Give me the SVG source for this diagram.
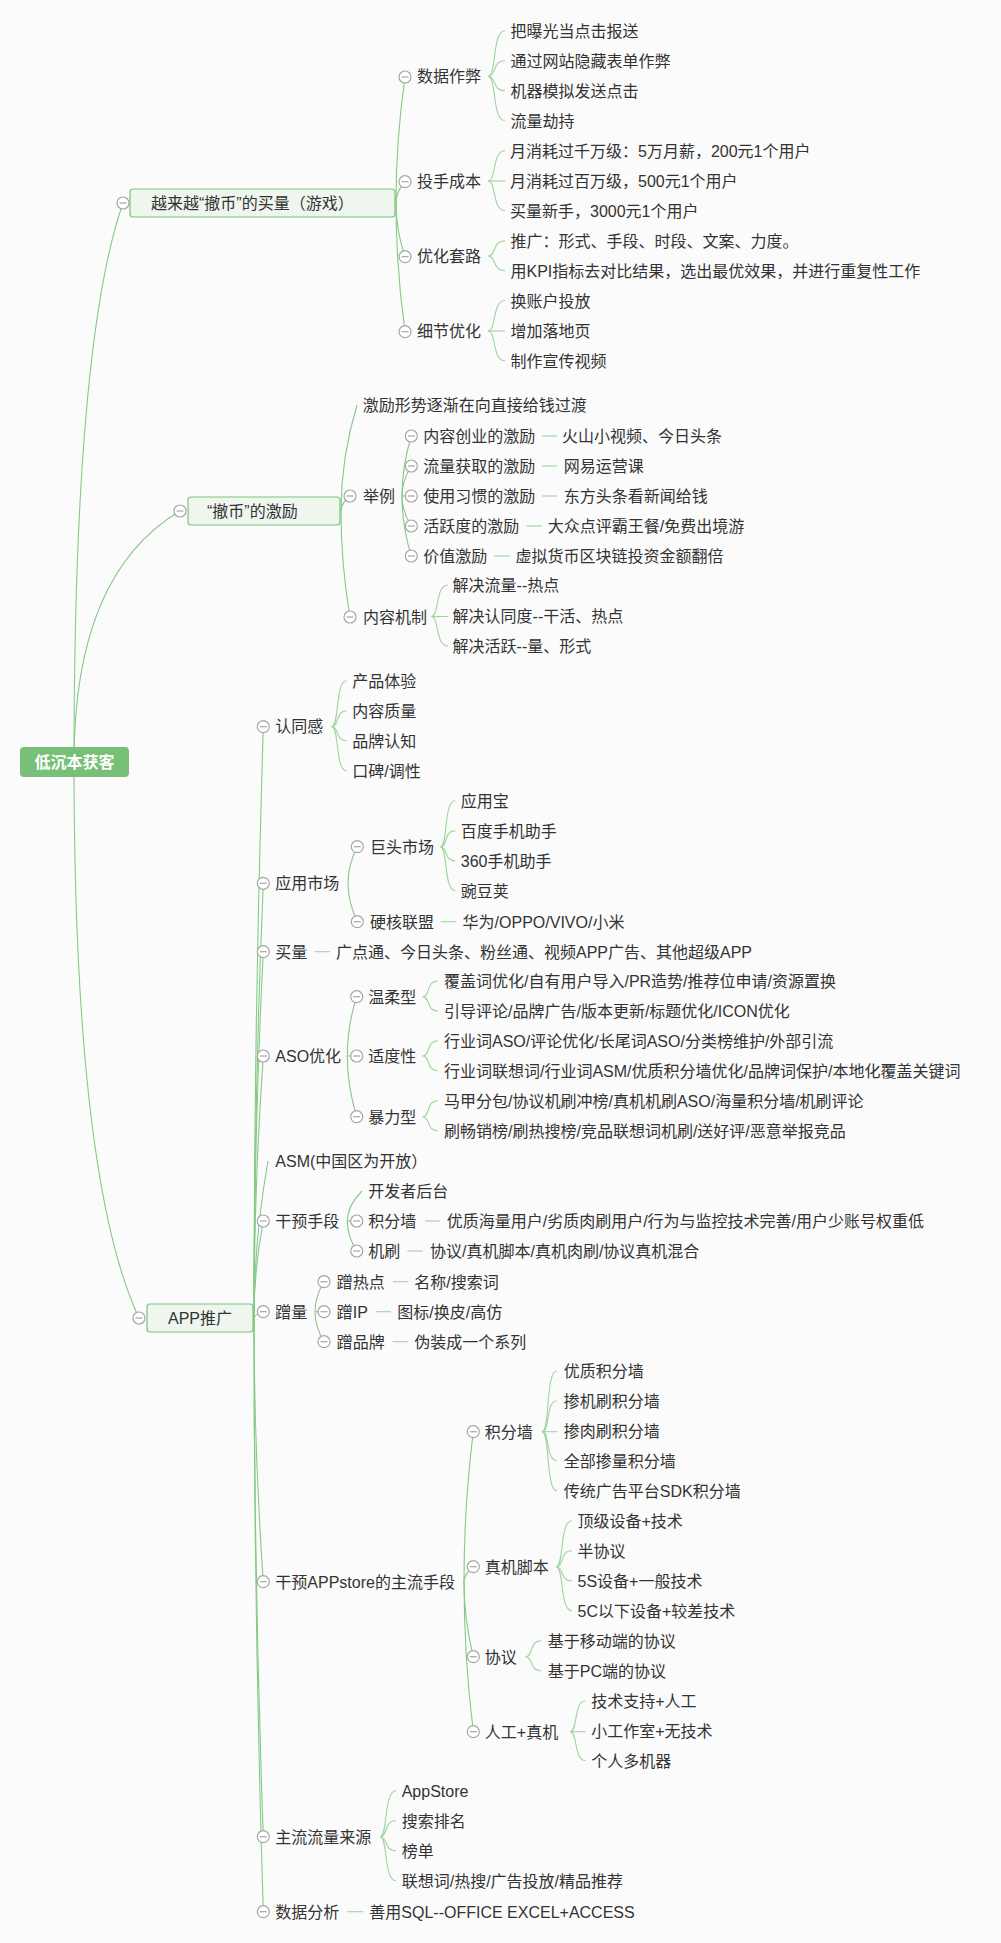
<svg xmlns="http://www.w3.org/2000/svg" xmlns:xlink="http://www.w3.org/1999/xlink" width="1001" height="1943" viewBox="0 0 1001 1943">
<style>
.t{font-family:"Liberation Sans","Noto Sans CJK SC",sans-serif;font-size:16px;fill:#333}
.rt{font-family:"Liberation Sans","Noto Sans CJK SC",sans-serif;font-size:16px;font-weight:bold;fill:#fff}
.ln{fill:none;stroke:#86c986;stroke-width:1.1}
.br{fill:none;stroke:#9dd59d;stroke-width:1.1}
.box{fill:#eef6ee;stroke:#7cc47c;stroke-width:1.2}
</style>
<defs>
<g id="col"><circle r="6" fill="#fff" stroke="#a6a6a6" stroke-width="1.2"/><line x1="-3.5" y1="0" x2="3.5" y2="0" stroke="#a6a6a6" stroke-width="1.2"/></g>
</defs>
<rect width="1001" height="1943" fill="#fbfbfb"/>

<g id="connectors">
<!-- root -->
<path class="ln" d="M74 762 Q74 343 123 203"/>
<path class="ln" d="M74 762 Q74 574 180 511"/>
<path class="ln" d="M74 762 Q74 1179 139 1318"/>
<!-- section 1 -->
<path class="ln" d="M396 203 Q396 140 405 77"/>
<path class="ln" d="M396 203 Q396 192 405 181.7"/>
<path class="ln" d="M396 203 Q396 230 405 256.7"/>
<path class="ln" d="M396 203 Q396 267 405 331.7"/>
<path class="br" d="M488 76.5 C496.5 76.5 492 30.7 505 30.7"/>
<path class="br" d="M488 76.5 C496.5 76.5 492 60.7 505 60.7"/>
<path class="br" d="M488 76.5 C496.5 76.5 492 90.7 505 90.7"/>
<path class="br" d="M488 76.5 C496.5 76.5 492 120.7 505 120.7"/>
<path class="br" d="M488 181 C496.5 181 492 150.7 505 150.7"/>
<path class="br" d="M488 181 L505 181"/>
<path class="br" d="M488 181 C496.5 181 492 210.5 505 210.5"/>
<path class="br" d="M488 256 C496.5 256 492 240.7 505 240.7"/>
<path class="br" d="M488 256 C496.5 256 492 270.7 505 270.7"/>
<path class="br" d="M488 331 C496.5 331 492 300.5 505 300.5"/>
<path class="br" d="M488 331 L505 331"/>
<path class="br" d="M488 331 C496.5 331 492 360.7 505 360.7"/>
<!-- section 2 -->
<path class="ln" d="M341 511 Q341 458 357 405"/>
<path class="ln" d="M341 511 Q341 503.5 350 496"/>
<path class="ln" d="M341 511 Q341 564 350 617"/>
<path class="ln" d="M402 496 Q402 466 411.3 436"/>
<path class="ln" d="M402 496 Q402 481 411.3 466"/>
<path class="ln" d="M402 496 L411.3 496"/>
<path class="ln" d="M402 496 Q402 511 411.3 526"/>
<path class="ln" d="M402 496 Q402 526 411.3 556"/>
<path class="br" d="M542 436 H557"/>
<path class="br" d="M542 466 H557"/>
<path class="br" d="M542 496 H557"/>
<path class="br" d="M526.5 526 H542"/>
<path class="br" d="M494 556 H510"/>
<path class="br" d="M431 616.5 C439.5 616.5 435 585 448 585"/>
<path class="br" d="M431 616.5 L448 616.5"/>
<path class="br" d="M431 616.5 C439.5 616.5 435 646 448 646"/>
<!-- section 3 -->
<path class="ln" d="M254 1318 Q254 1022 263.3 726.7"/>
<path class="ln" d="M254 1318 Q254 1100 263.3 883.3"/>
<path class="ln" d="M254 1318 Q254 1135 263.3 951.7"/>
<path class="ln" d="M254 1318 Q254 1187 263.3 1056"/>
<path class="ln" d="M254 1318 Q254 1240 268 1161"/>
<path class="ln" d="M254 1318 Q254 1270 263.3 1221"/>
<path class="ln" d="M254 1318 Q254 1315 263.3 1311.7"/>
<path class="ln" d="M254 1318 Q254 1450 263.3 1581.7"/>
<path class="ln" d="M254 1318 Q254 1577 263.3 1836.7"/>
<path class="ln" d="M254 1318 Q254 1615 263.3 1911.7"/>
<path class="br" d="M331.7 726.7 C339.5 726.7 335 680.7 346.7 680.7"/>
<path class="br" d="M331.7 726.7 C339.5 726.7 335 710.7 346.7 710.7"/>
<path class="br" d="M331.7 726.7 C339.5 726.7 335 740.7 346.7 740.7"/>
<path class="br" d="M331.7 726.7 C339.5 726.7 335 770.7 346.7 770.7"/>
<path class="ln" d="M348 883.3 Q348 865 357.3 846.7"/>
<path class="ln" d="M348 883.3 Q348 902 357.3 921.7"/>
<path class="br" d="M440.4 846.7 C448 846.7 443.5 800.7 455.2 800.7"/>
<path class="br" d="M440.4 846.7 C448 846.7 443.5 830.7 455.2 830.7"/>
<path class="br" d="M440.4 846.7 C448 846.7 443.5 860.7 455.2 860.7"/>
<path class="br" d="M440.4 846.7 C448 846.7 443.5 890.7 455.2 890.7"/>
<path class="br" d="M440.7 921.7 H456"/>
<path class="br" d="M315 951.7 H330"/>
<path class="ln" d="M347.3 1056 Q347.3 1026 356.7 996.7"/>
<path class="ln" d="M347.3 1056 L356.7 1056"/>
<path class="ln" d="M347.3 1056 Q347.3 1086 356.7 1116.7"/>
<path class="br" d="M422.7 996.7 C430.5 996.7 426 981 437.8 981"/>
<path class="br" d="M422.7 996.7 C430.5 996.7 426 1011 437.8 1011"/>
<path class="br" d="M422.7 1056 C430.5 1056 426 1040.7 437.8 1040.7"/>
<path class="br" d="M422.7 1056 C430.5 1056 426 1070.7 437.8 1070.7"/>
<path class="br" d="M422.7 1116.7 C430.5 1116.7 426 1100.7 437.8 1100.7"/>
<path class="br" d="M422.7 1116.7 C430.5 1116.7 426 1130.7 437.8 1130.7"/>
<path class="ln" d="M347.3 1221 Q347.3 1206 362 1191"/>
<path class="ln" d="M347.3 1221 L356.7 1221"/>
<path class="ln" d="M347.3 1221 Q347.3 1236 356.7 1251"/>
<path class="br" d="M425 1221 H440"/>
<path class="br" d="M407.3 1251 H422.7"/>
<path class="ln" d="M315 1311.7 Q315 1296.7 324 1281.7"/>
<path class="ln" d="M315 1311.7 L324 1311.7"/>
<path class="ln" d="M315 1311.7 Q315 1326.7 324 1341.7"/>
<path class="br" d="M393 1281.7 H408.3"/>
<path class="br" d="M376 1311.7 H391"/>
<path class="br" d="M392.7 1341.7 H408.3"/>
<path class="ln" d="M464 1581.7 Q464 1506 473.3 1431.7"/>
<path class="ln" d="M464 1581.7 Q464 1574 473.3 1566.7"/>
<path class="ln" d="M464 1581.7 Q464 1619 473.3 1656.7"/>
<path class="ln" d="M464 1581.7 Q464 1656 473.3 1731.7"/>
<path class="br" d="M542.3 1431.7 C550 1431.7 545.5 1370.7 557 1370.7"/>
<path class="br" d="M542.3 1431.7 C550 1431.7 545.5 1400.7 557 1400.7"/>
<path class="br" d="M542.3 1431.7 L557 1431.7"/>
<path class="br" d="M542.3 1431.7 C550 1431.7 545.5 1460.7 557 1460.7"/>
<path class="br" d="M542.3 1431.7 C550 1431.7 545.5 1490.7 557 1490.7"/>
<path class="br" d="M556.3 1566.7 C564 1566.7 559.5 1520.7 572 1520.7"/>
<path class="br" d="M556.3 1566.7 C564 1566.7 559.5 1550.7 572 1550.7"/>
<path class="br" d="M556.3 1566.7 C564 1566.7 559.5 1580.7 572 1580.7"/>
<path class="br" d="M556.3 1566.7 C564 1566.7 559.5 1610.7 572 1610.7"/>
<path class="br" d="M525.6 1656.7 C533.5 1656.7 529 1640.7 541 1640.7"/>
<path class="br" d="M525.6 1656.7 C533.5 1656.7 529 1670.7 541 1670.7"/>
<path class="br" d="M570 1731.7 C578 1731.7 573.5 1700.7 585.5 1700.7"/>
<path class="br" d="M570 1731.7 L585.5 1731.7"/>
<path class="br" d="M570 1731.7 C578 1731.7 573.5 1760.7 585.5 1760.7"/>
<path class="br" d="M380 1836.7 C388 1836.7 383.5 1790.7 396 1790.7"/>
<path class="br" d="M380 1836.7 C388 1836.7 383.5 1820.7 396 1820.7"/>
<path class="br" d="M380 1836.7 C388 1836.7 383.5 1850.7 396 1850.7"/>
<path class="br" d="M380 1836.7 C388 1836.7 383.5 1880.7 396 1880.7"/>
<path class="br" d="M347.3 1911.7 H363.3"/>
</g>

<g id="root">
<rect x="20" y="747" width="109" height="30" rx="4" fill="#78c078"/>
<text class="rt" x="74.5" y="768" text-anchor="middle">低沉本获客</text>
</g>

<!-- section 1 -->
<g id="n-game">
<rect class="box" x="130" y="189" width="265" height="28" rx="3"/>
<text class="t" x="151" y="209">越来越“撤币”的买量（游戏）</text>
<use href="#col" x="123" y="203"/>
</g>
<g id="n-shuju"><use href="#col" x="405" y="77"/><text class="t" x="417" y="82">数据作弊</text></g>
<g id="n-toushou"><use href="#col" x="405" y="181.7"/><text class="t" x="417" y="187">投手成本</text></g>
<g id="n-youhua"><use href="#col" x="405" y="256.7"/><text class="t" x="417" y="262">优化套路</text></g>
<g id="n-xijie"><use href="#col" x="405" y="331.7"/><text class="t" x="417" y="337">细节优化</text></g>
<g id="l1-leaves">
<text class="t" x="510.5" y="36.7">把曝光当点击报送</text>
<text class="t" x="510.5" y="66.7">通过网站隐藏表单作弊</text>
<text class="t" x="510.5" y="96.7">机器模拟发送点击</text>
<text class="t" x="510.5" y="126.7">流量劫持</text>
<text class="t" x="510" y="156.7">月消耗过千万级：5万月薪，200元1个用户</text>
<text class="t" x="510" y="186.5">月消耗过百万级，500元1个用户</text>
<text class="t" x="510" y="216.5">买量新手，3000元1个用户</text>
<text class="t" x="510.5" y="246.7">推广：形式、手段、时段、文案、力度。</text>
<text class="t" x="510.5" y="276.7">用KPI指标去对比结果，选出最优效果，并进行重复性工作</text>
<text class="t" x="510.5" y="306.5">换账户投放</text>
<text class="t" x="510.5" y="336.7">增加落地页</text>
<text class="t" x="510.5" y="366.7">制作宣传视频</text>
</g>

<!-- section 2 -->
<g id="n-jili">
<rect class="box" x="188" y="497" width="152" height="28" rx="3"/>
<text class="t" x="207" y="517">“撤币”的激励</text>
<use href="#col" x="180" y="511"/>
</g>
<g id="n-guodu"><text class="t" x="362.7" y="411">激励形势逐渐在向直接给钱过渡</text></g>
<g id="n-juli"><use href="#col" x="350" y="496"/><text class="t" x="363" y="502">举例</text></g>
<g id="n-neirong"><use href="#col" x="350" y="617"/><text class="t" x="363" y="622.5">内容机制</text></g>
<g id="n-juli-items">
<use href="#col" x="411.3" y="436"/><text class="t" x="423.3" y="442">内容创业的激励</text><text class="t" x="562" y="442">火山小视频、今日头条</text>
<use href="#col" x="411.3" y="466"/><text class="t" x="423.3" y="472">流量获取的激励</text><text class="t" x="563.8" y="472">网易运营课</text>
<use href="#col" x="411.3" y="496"/><text class="t" x="423.3" y="502">使用习惯的激励</text><text class="t" x="563.8" y="502">东方头条看新闻给钱</text>
<use href="#col" x="411.3" y="526"/><text class="t" x="423.3" y="532">活跃度的激励</text><text class="t" x="547.8" y="532">大众点评霸王餐/免费出境游</text>
<use href="#col" x="411.3" y="556"/><text class="t" x="423.3" y="562">价值激励</text><text class="t" x="515.6" y="562">虚拟货币区块链投资金额翻倍</text>
</g>
<g id="n-neirong-leaves">
<text class="t" x="452.6" y="591">解决流量--热点</text>
<text class="t" x="452.6" y="621.7">解决认同度--干活、热点</text>
<text class="t" x="452.6" y="651.7">解决活跃--量、形式</text>
</g>

<!-- section 3 -->
<g id="n-app">
<rect class="box" x="147" y="1304" width="106" height="28" rx="3"/>
<text class="t" x="168" y="1324">APP推广</text>
<use href="#col" x="139" y="1318"/>
</g>
<g id="n-rentong"><use href="#col" x="263.3" y="726.7"/><text class="t" x="275.3" y="732">认同感</text>
<text class="t" x="352.3" y="686.7">产品体验</text>
<text class="t" x="352.3" y="716.7">内容质量</text>
<text class="t" x="352.3" y="746.7">品牌认知</text>
<text class="t" x="352.3" y="776.5">口碑/调性</text>
</g>
<g id="n-yingyong"><use href="#col" x="263.3" y="883.3"/><text class="t" x="275.3" y="889">应用市场</text></g>
<g id="n-jutou"><use href="#col" x="357.3" y="846.7"/><text class="t" x="370" y="852.5">巨头市场</text>
<text class="t" x="460.8" y="806.5">应用宝</text>
<text class="t" x="460.8" y="836.7">百度手机助手</text>
<text class="t" x="460.8" y="866.5">360手机助手</text>
<text class="t" x="460.8" y="896.5">豌豆荚</text>
</g>
<g id="n-yinghe"><use href="#col" x="357.3" y="921.7"/><text class="t" x="370" y="927.5">硬核联盟</text><text class="t" x="462.6" y="927.5">华为/OPPO/VIVO/小米</text></g>
<g id="n-mailiang"><use href="#col" x="263.3" y="951.7"/><text class="t" x="275.3" y="957.5">买量</text><text class="t" x="336" y="957.5">广点通、今日头条、粉丝通、视频APP广告、其他超级APP</text></g>
<g id="n-aso"><use href="#col" x="263.3" y="1056"/><text class="t" x="275.3" y="1062">ASO优化</text></g>
<g id="n-wenrou"><use href="#col" x="356.7" y="996.7"/><text class="t" x="368.3" y="1002.5">温柔型</text>
<text class="t" x="444" y="986.5">覆盖词优化/自有用户导入/PR造势/推荐位申请/资源置换</text>
<text class="t" x="444" y="1016.5">引导评论/品牌广告/版本更新/标题优化/ICON优化</text>
</g>
<g id="n-shidu"><use href="#col" x="356.7" y="1056"/><text class="t" x="368.3" y="1062">适度性</text>
<text class="t" x="444" y="1046.5">行业词ASO/评论优化/长尾词ASO/分类榜维护/外部引流</text>
<text class="t" x="444" y="1076.5">行业词联想词/行业词ASM/优质积分墙优化/品牌词保护/本地化覆盖关键词</text>
</g>
<g id="n-baoli"><use href="#col" x="356.7" y="1116.7"/><text class="t" x="368.3" y="1122.5">暴力型</text>
<text class="t" x="444" y="1106.5">马甲分包/协议机刷冲榜/真机机刷ASO/海量积分墙/机刷评论</text>
<text class="t" x="444" y="1136.5">刷畅销榜/刷热搜榜/竞品联想词机刷/送好评/恶意举报竞品</text>
</g>
<g id="n-asm"><text class="t" x="275.3" y="1167">ASM(中国区为开放）</text></g>
<g id="n-ganyu"><use href="#col" x="263.3" y="1221"/><text class="t" x="275.3" y="1227">干预手段</text>
<text class="t" x="368.3" y="1197">开发者后台</text>
</g>
<g id="n-jifen1"><use href="#col" x="356.7" y="1221"/><text class="t" x="368.3" y="1227">积分墙</text><text class="t" x="446.7" y="1227">优质海量用户/劣质肉刷用户/行为与监控技术完善/用户少账号权重低</text></g>
<g id="n-jishua"><use href="#col" x="356.7" y="1251"/><text class="t" x="368.3" y="1257">机刷</text><text class="t" x="430" y="1257">协议/真机脚本/真机肉刷/协议真机混合</text></g>
<g id="n-cengliang"><use href="#col" x="263.3" y="1311.7"/><text class="t" x="275.3" y="1317.5">蹭量</text></g>
<g id="n-cengredian"><use href="#col" x="324" y="1281.7"/><text class="t" x="336.7" y="1287.5">蹭热点</text><text class="t" x="414.3" y="1287.5">名称/搜索词</text></g>
<g id="n-cengip"><use href="#col" x="324" y="1311.7"/><text class="t" x="336.7" y="1317.5">蹭IP</text><text class="t" x="397.3" y="1317.5">图标/换皮/高仿</text></g>
<g id="n-cengpinpai"><use href="#col" x="324" y="1341.7"/><text class="t" x="336.7" y="1347.5">蹭品牌</text><text class="t" x="414.3" y="1347.5">伪装成一个系列</text></g>
<g id="n-appstore"><use href="#col" x="263.3" y="1581.7"/><text class="t" x="275.3" y="1587.5">干预APPstore的主流手段</text></g>
<g id="n-jifen2"><use href="#col" x="473.3" y="1431.7"/><text class="t" x="484.8" y="1437.5">积分墙</text>
<text class="t" x="563.8" y="1376.7">优质积分墙</text>
<text class="t" x="563.8" y="1406.7">掺机刷积分墙</text>
<text class="t" x="563.8" y="1436.7">掺肉刷积分墙</text>
<text class="t" x="563.8" y="1466.7">全部掺量积分墙</text>
<text class="t" x="563.8" y="1496.7">传统广告平台SDK积分墙</text>
</g>
<g id="n-zhenji"><use href="#col" x="473.3" y="1566.7"/><text class="t" x="484.8" y="1572.5">真机脚本</text>
<text class="t" x="577.5" y="1526.7">顶级设备+技术</text>
<text class="t" x="577.5" y="1556.7">半协议</text>
<text class="t" x="577.5" y="1586.7">5S设备+一般技术</text>
<text class="t" x="577.5" y="1616.7">5C以下设备+较差技术</text>
</g>
<g id="n-xieyi"><use href="#col" x="473.3" y="1656.7"/><text class="t" x="484.8" y="1662.5">协议</text>
<text class="t" x="547.8" y="1646.7">基于移动端的协议</text>
<text class="t" x="547.8" y="1676.7">基于PC端的协议</text>
</g>
<g id="n-rengong"><use href="#col" x="473.3" y="1731.7"/><text class="t" x="484.8" y="1737.5">人工+真机</text>
<text class="t" x="591.2" y="1706.7">技术支持+人工</text>
<text class="t" x="591.2" y="1736.7">小工作室+无技术</text>
<text class="t" x="591.2" y="1766.5">个人多机器</text>
</g>
<g id="n-liuliang"><use href="#col" x="263.3" y="1836.7"/><text class="t" x="275.3" y="1842.5">主流流量来源</text>
<text class="t" x="401.7" y="1796.7">AppStore</text>
<text class="t" x="401.7" y="1826.7">搜索排名</text>
<text class="t" x="401.7" y="1856.7">榜单</text>
<text class="t" x="401.7" y="1886.7">联想词/热搜/广告投放/精品推荐</text>
</g>
<g id="n-fenxi"><use href="#col" x="263.3" y="1911.7"/><text class="t" x="275.3" y="1917.5">数据分析</text><text class="t" x="369.3" y="1917.5">善用SQL--OFFICE EXCEL+ACCESS</text></g>
</svg>
